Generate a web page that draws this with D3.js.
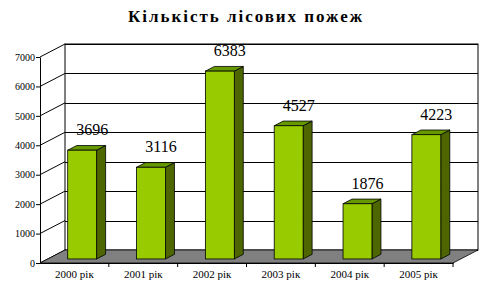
<!DOCTYPE html>
<html>
<head>
<meta charset="utf-8">
<script src="https://cdn.jsdelivr.net/npm/d3@7"></script>
<style>
  body { margin: 0; background: #fff; }
  svg text { font-family: "Liberation Serif", "Times New Roman", serif; }
</style>
</head>
<body>
<svg id="chart" width="488" height="288"></svg>
<script>
// chart data
const years = ['2000 рік', '2001 рік', '2002 рік', '2003 рік', '2004 рік', '2005 рік'];
const fires = [3696, 3116, 6383, 4527, 1876, 4223];
const yTicks = [0, 1000, 2000, 3000, 4000, 5000, 6000, 7000];
const title = 'Кількість лісових пожеж';

const svg = d3.select('#chart');

const plot = { left: 40, right: 453, top: 57, bottom: 263 };
const depth = { dx: 25, dy: -13 };   // 3d offset of back wall
const barDepth = [0.31, 0.67];        // front/back of bars as fraction of depth
const serif = '"Liberation Serif", "Times New Roman", serif';

const xScale = d3.scaleBand()
    .domain(years)
    .range([plot.left, plot.right]);

const yScale = d3.scaleLinear()
    .domain([0, 7000])
    .range([plot.bottom, plot.top]);

// title
svg.append('text')
    .attr('x', 245)
    .attr('y', 22)
    .attr('text-anchor', 'middle')
    .style('font-size', '17px')
    .style('font-weight', 'bold')
    .attr('textLength', 234)
    .text(title);

//#region walls
const backLeft = plot.left + depth.dx;
const backRight = plot.right + depth.dx;

// back wall
svg.append('rect')
    .attr('x', backLeft)
    .attr('y', yScale(7000) + depth.dy)
    .attr('width', backRight - backLeft)
    .attr('height', yScale(0) - yScale(7000))
    .attr('fill', 'white')
    .attr('stroke', 'black');

// gridlines on back wall + side wall diagonals
const grid = svg.append('g').attr('stroke', 'black').attr('stroke-width', 1);
yTicks.forEach(t => {
    grid.append('line')
        .attr('x1', backLeft).attr('x2', backRight)
        .attr('y1', Math.round(yScale(t) + depth.dy) + 0.5)
        .attr('y2', Math.round(yScale(t) + depth.dy) + 0.5);
    grid.append('line')
        .attr('x1', plot.left).attr('y1', yScale(t))
        .attr('x2', backLeft).attr('y2', yScale(t) + depth.dy);
});

// floor
const y0 = yScale(0);
svg.append('polygon')
    .attr('points', [
        [plot.left, y0], [plot.right, y0],
        [backRight, y0 + depth.dy], [backLeft, y0 + depth.dy]
    ].map(p => p.join(',')).join(' '))
    .attr('fill', '#808080')
    .attr('stroke', 'black')
    .attr('stroke-width', 0.8);
//#endregion

//#region bars
const barW = xScale.bandwidth() * 0.42;
const fx = barDepth[0] * depth.dx, fy = barDepth[0] * depth.dy;
const bdx = (barDepth[1] - barDepth[0]) * depth.dx;
const bdy = (barDepth[1] - barDepth[0]) * depth.dy;

const barGroups = svg.append('g')
    .selectAll('g')
    .data(fires)
    .enter()
    .append('g');

barGroups.each(function (d, i) {
    const g = d3.select(this);
    const x0 = xScale(years[i]) + xScale.bandwidth() / 2 - barW / 2 + fx;
    const x1 = x0 + barW;
    const yb = yScale(0) + fy;
    const yt = yScale(d) + fy;

    // side
    g.append('polygon')
        .attr('points', [[x1, yb], [x1 + bdx, yb + bdy], [x1 + bdx, yt + bdy], [x1, yt]].map(p => p.join(',')).join(' '))
        .attr('fill', '#4d6600')
        .attr('stroke', 'black').attr('stroke-width', 0.8);
    // top
    g.append('polygon')
        .attr('points', [[x0, yt], [x1, yt], [x1 + bdx, yt + bdy], [x0 + bdx, yt + bdy]].map(p => p.join(',')).join(' '))
        .attr('fill', '#669900')
        .attr('stroke', 'black').attr('stroke-width', 0.8);
    // front
    g.append('rect')
        .attr('x', x0).attr('y', yt)
        .attr('width', barW).attr('height', yb - yt)
        .attr('fill', '#99cc00')
        .attr('stroke', 'black').attr('stroke-width', 0.8);

    g.append('text')
        .attr('x', (x0 + x1) / 2 + 10)
        .attr('y', yt - 15)
        .attr('text-anchor', 'middle')
        .style('font-size', '16px')
        .text(d);
});
//#endregion

//#region axes
const yAxis = d3.axisLeft(yScale)
    .tickValues(yTicks)
    .tickSize(4)
    .tickSizeOuter(0)
    .tickFormat(d3.format('d'));
const yAxisG = svg.append('g')
    .attr('transform', `translate(${plot.left},0)`)
    .call(yAxis);
yAxisG.selectAll('text')
    .style('font-size', '10px')
    .style('font-family', serif)
    .attr('x', -5);

const xAxis = d3.axisBottom(xScale)
    .tickSize(0)
    .tickSizeOuter(0);
const xAxisG = svg.append('g')
    .attr('transform', `translate(0,${plot.bottom})`)
    .call(xAxis);
xAxisG.selectAll('text')
    .style('font-size', '11px')
    .style('font-family', serif)
    .attr('dy', '0')
    .attr('y', 15);

// category boundary ticks
xAxisG.selectAll('.boundary')
    .data(years)
    .enter()
    .append('line')
    .attr('x1', d => xScale(d) + xScale.bandwidth())
    .attr('x2', d => xScale(d) + xScale.bandwidth())
    .attr('y1', 0)
    .attr('y2', 4)
    .attr('stroke', 'black');

svg.selectAll('.domain').attr('stroke', 'black');
svg.selectAll('.tick line').attr('stroke', 'black');
svg.selectAll('.tick text').attr('fill', 'black');
//#endregion
</script>
</body>
</html>
